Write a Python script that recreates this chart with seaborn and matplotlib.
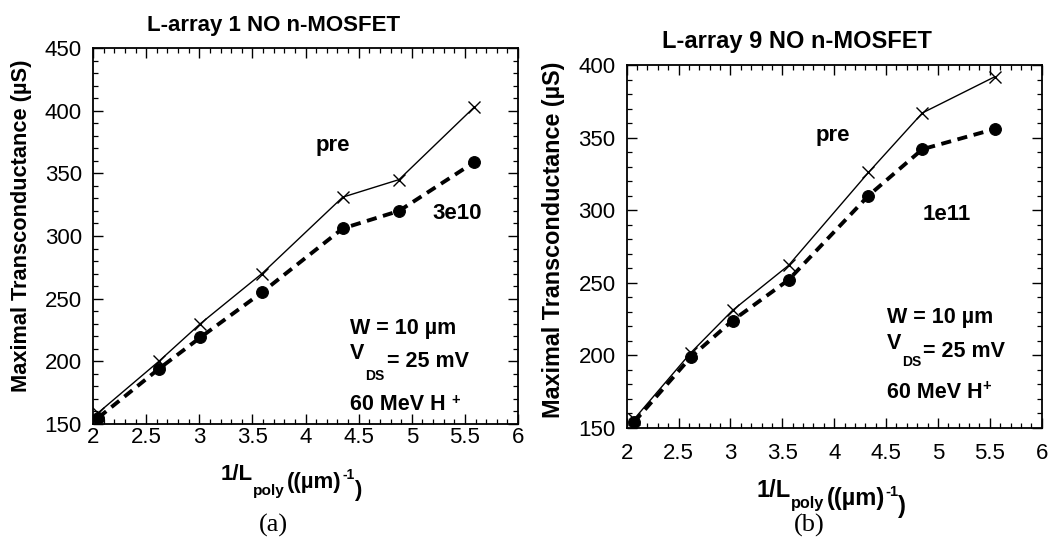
import matplotlib
matplotlib.use("Agg")
import matplotlib.pyplot as plt
from matplotlib.ticker import MultipleLocator
import pandas as pd
import seaborn as sns

# Inverse poly length (1/um) and maximal transconductance (uS)
inv_l_a = [2.05, 2.62, 3.01, 3.59, 4.35, 4.88, 5.59]
gm_pre_a = [159, 200, 230, 270, 331, 345, 403]
gm_post_a = [155, 194, 219, 255, 306, 320, 359]

inv_l_b = [2.07, 2.62, 3.02, 3.56, 4.33, 4.85, 5.55]
gm_pre_b = [156, 202, 231, 262, 326, 367, 392]
gm_post_b = [154, 199, 224, 252, 310, 342, 356]

titles = ["L-array 1 NO n-MOSFET", "L-array 9 NO n-MOSFET"]
fluence_labels = ["3e10", "1e11"]
panel_tags = ["(a)", "(b)"]
ylims = [(150, 450), (150, 400)]

sns.set_theme(style="ticks")
plt.rcParams["font.family"] = ["Liberation Sans", "DejaVu Sans"]
plt.rcParams.update({
    "axes.linewidth": 1.3,
    "xtick.direction": "in", "ytick.direction": "in",
    "xtick.top": True, "ytick.right": True,
    "xtick.major.size": 7, "ytick.major.size": 7,
    "xtick.minor.size": 3.5, "ytick.minor.size": 3.5,
    "xtick.major.width": 1.0, "ytick.major.width": 1.0,
    "xtick.minor.width": 0.9, "ytick.minor.width": 0.9,
    "xtick.labelsize": 16, "ytick.labelsize": 16,
    "xtick.color": "black", "ytick.color": "black",
    "axes.edgecolor": "black",
})

fig = plt.figure(figsize=(10.48, 5.40), dpi=100)
ax_a = fig.add_axes([0.0888, 0.215, 0.4055, 0.696])
ax_b = fig.add_axes([0.598, 0.2074, 0.396, 0.6722])

panels = [
    (ax_a, inv_l_a, gm_pre_a, gm_post_a),
    (ax_b, inv_l_b, gm_pre_b, gm_post_b),
]

# label positions (axes fractions) and sizes per panel
pre_pos = [(0.565, 0.742), (0.496, 0.807)]
flu_pos = [(0.856, 0.561), (0.771, 0.587)]
cond_x = [0.605, 0.627]
cond_y = [(0.240, 0.174, 0.038), (0.290, 0.219, 0.083)]
ds_drop = [-12, -9]
xlab_pos = [(0.300, -0.150), (0.312, -0.190)]
xlab_size = [16, 17]
sub_drop = [7, 4]
ylab_pos = [(-0.168, 0.527), (-0.176, 0.518)]
ylab_size = [15.7, 16.8]
tag_pos = [(0.425, -0.27), (0.441, -0.268)]
title_pos = [(0.425, 1.046), (0.409, 1.048)]
title_size = [16, 17]
xpad = [2.5, 11]

bold = dict(fontweight="bold", color="black")

for i, (ax, xv, pre, post) in enumerate(panels):
    df = pd.DataFrame({"inv_l": xv, "pre": pre, "post": post})
    sns.lineplot(data=df, x="inv_l", y="pre", ax=ax, color="black", lw=1.0,
                 marker="x", markersize=9, markeredgewidth=1.0,
                 markeredgecolor="black")
    sns.lineplot(data=df, x="inv_l", y="post", ax=ax, color="black", lw=2.8,
                 linestyle=(0, (2.6, 1.7)), marker="o", markersize=8.5,
                 markeredgecolor="black", markerfacecolor="black")

    ax.set_xlim(2, 6)
    ax.set_ylim(*ylims[i])
    ax.xaxis.set_major_locator(MultipleLocator(0.5))
    ax.xaxis.set_minor_locator(MultipleLocator(0.1))
    ax.yaxis.set_major_locator(MultipleLocator(50))
    ax.yaxis.set_minor_locator(MultipleLocator(10))
    ax.set_xticks([2, 2.5, 3, 3.5, 4, 4.5, 5, 5.5, 6])
    ax.set_xticklabels(["2", "2.5", "3", "3.5", "4", "4.5", "5", "5.5", "6"])
    ax.tick_params(axis="x", pad=xpad[i])
    ax.tick_params(axis="y", pad=8)
    ax.set_xlabel("")
    ax.set_ylabel("")

    # title
    ax.text(*title_pos[i], titles[i], transform=ax.transAxes, ha="center",
            va="baseline", fontsize=title_size[i], **bold)

    # y label
    ax.text(*ylab_pos[i], "Maximal Transconductance (\u00b5S)",
            transform=ax.transAxes, rotation=90, ha="center", va="center",
            fontsize=ylab_size[i], **bold)

    # x label: 1/L_poly ((um)^-1)
    fs = xlab_size[i]
    d = sub_drop[i]
    t1 = ax.text(*xlab_pos[i], "1/L", transform=ax.transAxes, ha="left",
                 va="baseline", fontsize=fs, **bold)
    t2 = ax.annotate("poly", xy=(1, 0), xycoords=t1, xytext=(0.5, -d),
                     textcoords="offset points", ha="left", va="baseline",
                     fontsize=fs * 0.69, **bold)
    t3 = ax.annotate("((\u00b5m)", xy=(1, 0), xycoords=t2, xytext=(1.5, d),
                     textcoords="offset points", ha="left", va="baseline",
                     fontsize=fs, **bold)
    t4 = ax.annotate("-1", xy=(1, 0), xycoords=t3, xytext=(0.2, 10),
                     textcoords="offset points", ha="left", va="baseline",
                     fontsize=fs * 0.63, **bold)
    ax.annotate(")", xy=(1, 0), xycoords=t4, xytext=(0, -10),
                textcoords="offset points", ha="left", va="baseline",
                fontsize=fs, **bold)

    # curve labels
    ax.text(*pre_pos[i], "pre", transform=ax.transAxes, ha="center",
            va="center", fontsize=16, **bold)
    ax.text(*flu_pos[i], fluence_labels[i], transform=ax.transAxes,
            ha="center", va="center", fontsize=16, **bold)

    # measurement conditions
    cx = cond_x[i]
    yw, yv, yh = cond_y[i]
    ax.text(cx, yw, "W = 10 \u00b5m", transform=ax.transAxes, ha="left",
            va="baseline", fontsize=15.5, **bold)
    v1 = ax.text(cx, yv, "V", transform=ax.transAxes, ha="left",
                 va="baseline", fontsize=15.5, **bold)
    v2 = ax.annotate("DS", xy=(1, 0), xycoords=v1, xytext=(0.5, ds_drop[i]),
                     textcoords="offset points", ha="left", va="baseline",
                     fontsize=10, **bold)
    ax.annotate("= 25 mV", xy=(1, 0), xycoords=v2,
                xytext=(1.5, -ds_drop[i]),
                textcoords="offset points", ha="left", va="baseline",
                fontsize=15.5, **bold)
    h1 = ax.text(cx, yh, "60 MeV H", transform=ax.transAxes, ha="left",
                 va="baseline", fontsize=15.5, **bold)
    ax.annotate("+", xy=(1, 0), xycoords=h1,
                xytext=(4 if i == 0 else 0, 8 if i == 0 else 9),
                textcoords="offset points", ha="left", va="baseline",
                fontsize=10.5, **bold)

    # panel tag
    ax.text(*tag_pos[i], panel_tags[i], transform=ax.transAxes, ha="center",
            va="center", fontsize=19,
            family=["Liberation Serif", "DejaVu Serif"], color="black")

fig.savefig("out.png", dpi=100, facecolor="white")
